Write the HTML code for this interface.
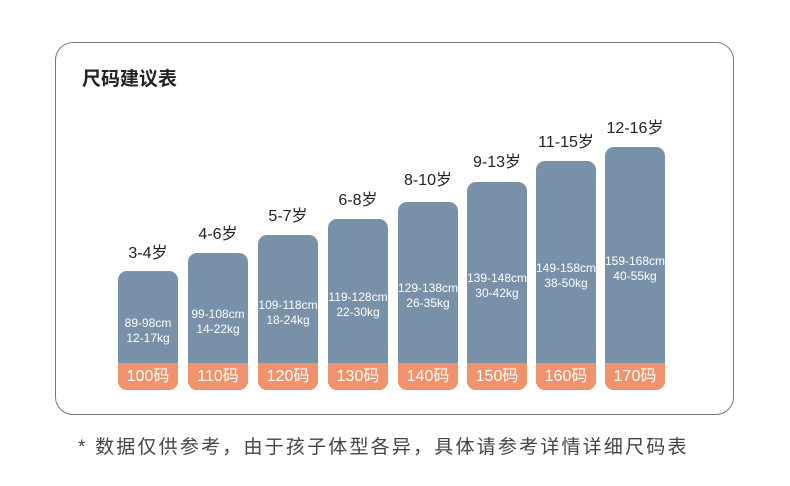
<!DOCTYPE html>
<html><head><meta charset="utf-8"><style>
body{margin:0;width:790px;height:486px;background:#fff;position:relative;font-family:"Liberation Sans","Noto Sans CJK SC",sans-serif;overflow:hidden}
.frame{position:absolute;left:55px;top:42px;width:677px;height:371px;border:1.5px solid #777;border-radius:18px}
.title{position:absolute;left:82px;top:64px;font-size:19px;font-weight:bold;color:#222}
.bar{position:absolute;width:60px;border-radius:9px;overflow:hidden;background:#7891a8;display:flex;align-items:center;justify-content:center}
.bar .o{position:absolute;left:0;right:0;bottom:0;height:27px;background:#f0936d;color:#fff;font-size:16px;text-align:center;line-height:27px}
.bar .t{position:relative;margin:0 -6px;color:#fff;font-size:12px;text-align:center;line-height:15px;white-space:nowrap}
.age{position:absolute;width:90px;text-align:center;font-size:16px;color:#222}
.note{position:absolute;left:78px;top:432px;font-size:19px;color:#444;letter-spacing:2.2px;white-space:nowrap}
</style></head><body>
<div class="frame"></div>
<div class="title">尺码建议表</div>
<div class="bar" style="left:118px;top:271px;height:119px"><div class="t">89-98cm<br>12-17kg</div><div class="o">100码</div></div>
<div class="age" style="left:103px;top:239px">3-4岁</div>
<div class="bar" style="left:188px;top:253px;height:137px"><div class="t">99-108cm<br>14-22kg</div><div class="o">110码</div></div>
<div class="age" style="left:173px;top:220px">4-6岁</div>
<div class="bar" style="left:258px;top:235px;height:155px"><div class="t">109-118cm<br>18-24kg</div><div class="o">120码</div></div>
<div class="age" style="left:243px;top:202px">5-7岁</div>
<div class="bar" style="left:328px;top:219px;height:171px"><div class="t">119-128cm<br>22-30kg</div><div class="o">130码</div></div>
<div class="age" style="left:313px;top:186px">6-8岁</div>
<div class="bar" style="left:398px;top:202px;height:188px"><div class="t">129-138cm<br>26-35kg</div><div class="o">140码</div></div>
<div class="age" style="left:383px;top:166px">8-10岁</div>
<div class="bar" style="left:467px;top:182px;height:208px"><div class="t">139-148cm<br>30-42kg</div><div class="o">150码</div></div>
<div class="age" style="left:452px;top:148px">9-13岁</div>
<div class="bar" style="left:536px;top:161px;height:229px"><div class="t">149-158cm<br>38-50kg</div><div class="o">160码</div></div>
<div class="age" style="left:521px;top:128px">11-15岁</div>
<div class="bar" style="left:605px;top:147px;height:243px"><div class="t">159-168cm<br>40-55kg</div><div class="o">170码</div></div>
<div class="age" style="left:590px;top:114px">12-16岁</div>
<div class="note">* 数据仅供参考，由于孩子体型各异，具体请参考详情详细尺码表</div>
</body></html>
